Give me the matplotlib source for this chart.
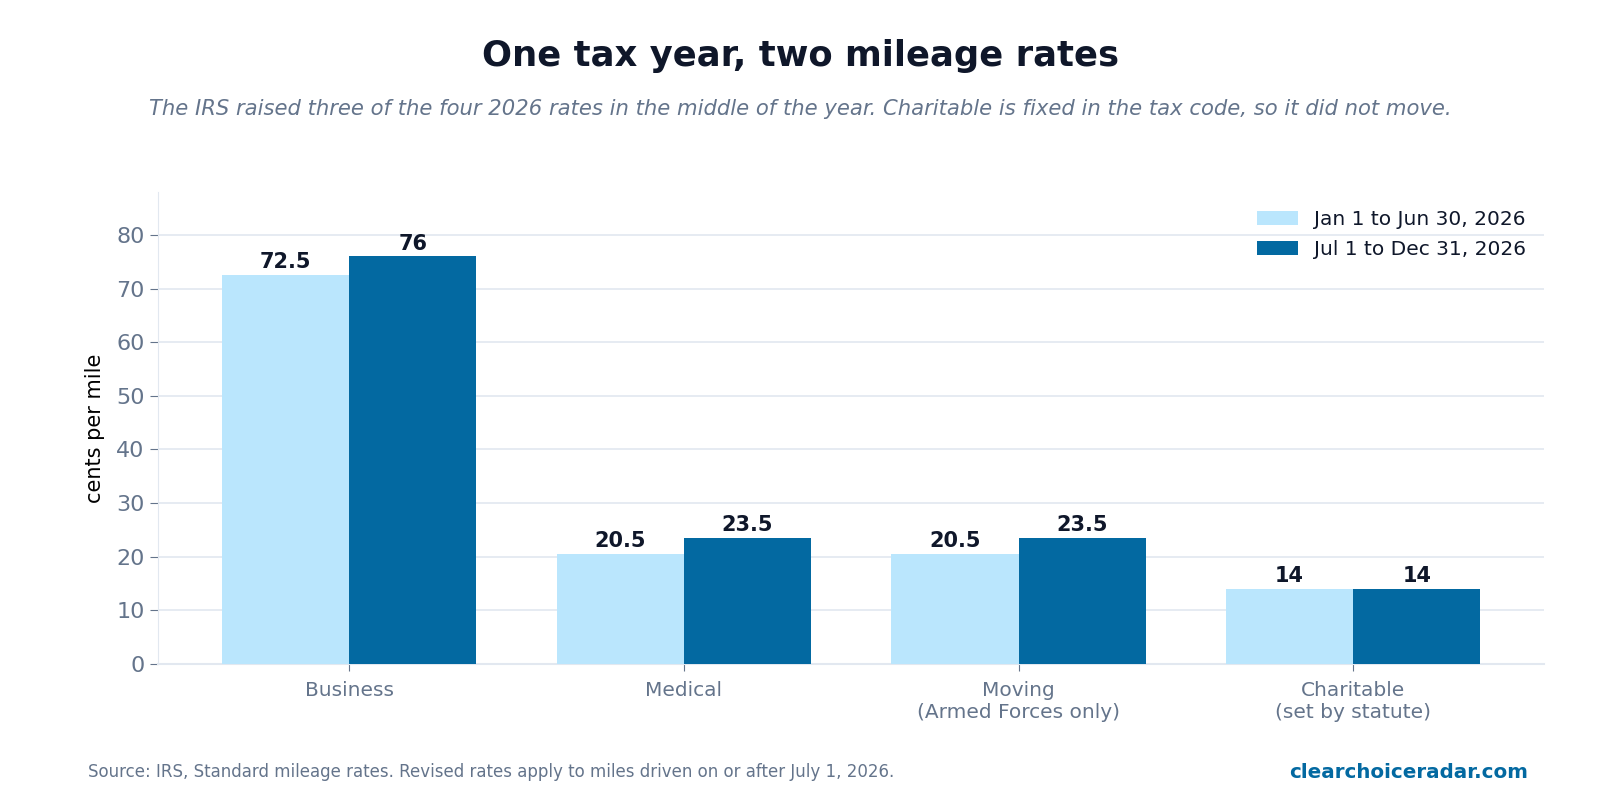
import matplotlib
matplotlib.use("Agg")
import matplotlib.pyplot as plt
import numpy as np

categories = ["Business", "Medical", "Moving\n(Armed Forces only)", "Charitable\n(set by statute)"]
first_half = [72.5, 20.5, 20.5, 14]
second_half = [76, 23.5, 23.5, 14]
series_labels = ["Jan 1 to Jun 30, 2026", "Jul 1 to Dec 31, 2026"]

LIGHT = "#bae6fd"
DARK = "#0369a1"
TITLE = "#0f172a"
MUTED = "#64748b"
GRID = "#e2e8f0"

fig = plt.figure(figsize=(16, 8), dpi=100)
ax = fig.add_axes([0.099, 0.17, 0.866, 0.59])

x = np.arange(len(categories))
w = 0.38
b1 = ax.bar(x - w / 2, first_half, w, color=LIGHT, label=series_labels[0], zorder=3)
b2 = ax.bar(x + w / 2, second_half, w, color=DARK, label=series_labels[1], zorder=3)

def fmt(v):
    return f"{v:g}"

for bars, vals in ((b1, first_half), (b2, second_half)):
    ax.bar_label(bars, labels=[fmt(v) for v in vals], padding=2, fontsize=15,
                 fontweight="bold", color=TITLE)

ax.set_xlim(-0.57, 3.57)
ax.set_ylim(0, 88)
ax.set_yticks(np.arange(0, 81, 10))
ax.set_xticks(x)
ax.set_xticklabels(categories)
ax.yaxis.grid(True, color=GRID, linewidth=1.2, zorder=0)
ax.set_axisbelow(True)
for s in ("top", "right"):
    ax.spines[s].set_visible(False)
ax.spines["left"].set_color(GRID)
ax.spines["bottom"].set_color(GRID)
ax.spines["bottom"].set_linewidth(1.5)
ax.tick_params(axis="y", colors=MUTED, labelsize=16, length=6, pad=4)
ax.tick_params(axis="x", colors=MUTED, labelsize=14.5, length=5, pad=7)
ax.set_ylabel("cents per mile", fontsize=15, color="black", labelpad=8)

leg = ax.legend(loc="upper right", frameon=False, fontsize=14.5, handlelength=2.0,
                handleheight=0.7, borderaxespad=0.5, labelspacing=0.55)
for t in leg.get_texts():
    t.set_color(TITLE)

fig.text(0.5, 0.93, "One tax year, two mileage rates", ha="center", va="center",
         fontsize=25.5, fontweight="bold", color=TITLE)
fig.text(0.5, 0.864, "The IRS raised three of the four 2026 rates in the middle of the year. "
         "Charitable is fixed in the tax code, so it did not move.",
         ha="center", va="center", fontsize=15.2, style="italic", color=MUTED)
fig.text(0.055, 0.035, "Source: IRS, Standard mileage rates. Revised rates apply to miles driven on or after July 1, 2026.",
         ha="left", va="center", fontsize=12, color=MUTED)
fig.text(0.955, 0.035, "clearchoiceradar.com", ha="right", va="center",
         fontsize=14.3, fontweight="bold", color=DARK)

fig.savefig("out.png", dpi=100)
